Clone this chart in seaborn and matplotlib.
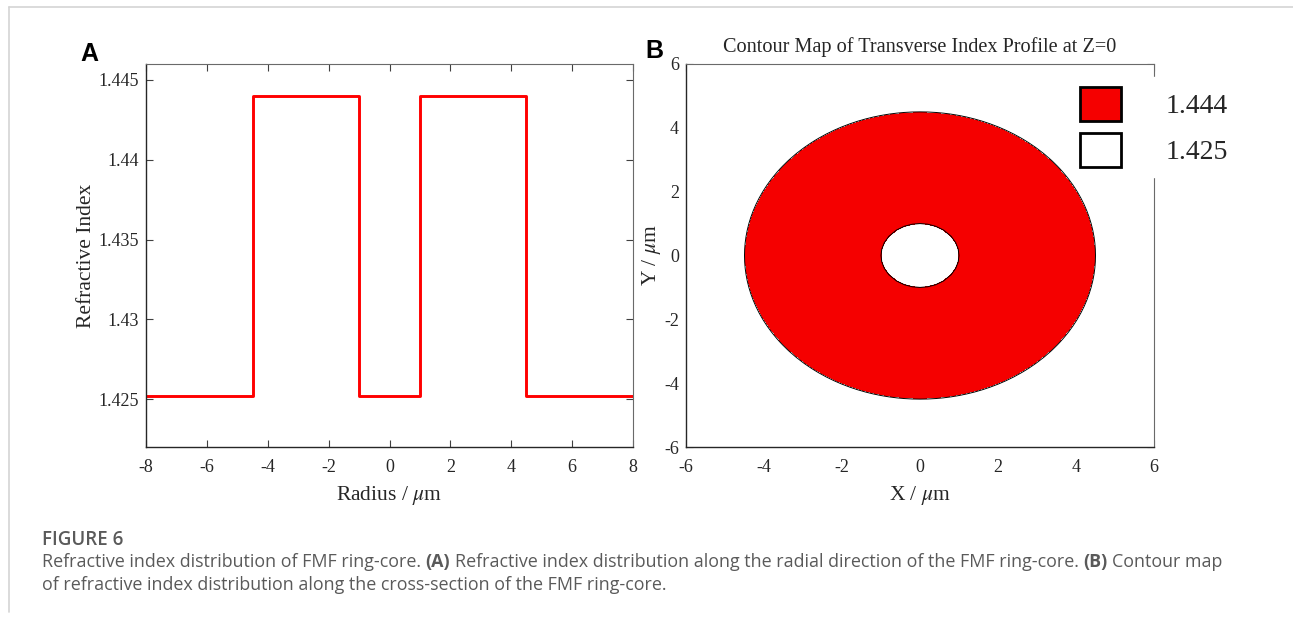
import numpy as np
import pandas as pd
import matplotlib
matplotlib.use("Agg")
import matplotlib.pyplot as plt
import seaborn as sns
from matplotlib.patches import Patch
from matplotlib.lines import Line2D

# ---------------- data ----------------
radius_um = [-8.0, -4.5, -4.5, -1.0, -1.0, 1.0, 1.0, 4.5, 4.5, 8.0]
refr_index = [1.4252, 1.4252, 1.444, 1.444, 1.4252, 1.4252, 1.444, 1.444, 1.4252, 1.4252]
ring_inner_um = 1.0
ring_outer_um = 4.5
core_index = 1.444
clad_index = 1.425
x_ticks_a = [-8, -6, -4, -2, 0, 2, 4, 6, 8]
y_ticks_a = [1.425, 1.43, 1.435, 1.44, 1.445]
y_ticklabels_a = ["1.425", "1.43", "1.435", "1.44", "1.445"]
xy_ticks_b = [-6, -4, -2, 0, 2, 4, 6]
legend_labels = ["1.444", "1.425"]

# ---------------- style ----------------
sns.set_style("ticks")
plt.rcParams["font.family"] = ["Liberation Serif", "DejaVu Serif"]
plt.rcParams["mathtext.fontset"] = "stix"
TXT = "#262626"
RED = "#ff0000"
FILL = "#f50000"

W, H = 1293, 619
fig = plt.figure(figsize=(W / 100, H / 100), dpi=100)


def ax_rect(l, t, r, b):
    return [l / W, 1 - b / H, (r - l) / W, (b - t) / H]


axA = fig.add_axes(ax_rect(146, 64, 633, 447))
axB = fig.add_axes(ax_rect(686, 64, 1154, 447))

for ax in (axA, axB):
    ax.tick_params(direction="in", top=True, right=True, length=5, width=0.8,
                   colors="#404040", labelcolor=TXT, labelsize=13)
    ax.tick_params(axis="x", pad=9)
    ax.tick_params(axis="y", pad=5)
    for s in ("left", "bottom"):
        ax.spines[s].set_color("#262626")
        ax.spines[s].set_linewidth(1.0)
    for s in ("top", "right"):
        ax.spines[s].set_color("#6a6a6a")
        ax.spines[s].set_linewidth(0.8)

# ---------------- panel A ----------------
dfA = pd.DataFrame({"radius": radius_um, "index": refr_index})
sns.lineplot(data=dfA, x="radius", y="index", sort=False, estimator=None,
             color=RED, linewidth=2.1, ax=axA)
axA.set_xlim(-8, 8)
axA.set_ylim(1.422, 1.446)
axA.set_xticks(x_ticks_a)
axA.set_xticklabels([str(v) for v in x_ticks_a])
axA.set_yticks(y_ticks_a)
axA.set_yticklabels(y_ticklabels_a)
axA.set_xlabel(r"Radius / $\mu$m", fontsize=15.5, color=TXT, labelpad=5.5)
axA.set_ylabel("Refractive Index", fontsize=15.5, color=TXT, labelpad=2)

# ---------------- panel B ----------------
g = np.linspace(-6, 6, 61)
X, Y = np.meshgrid(g, g)
R = np.hypot(X, Y)
axB.contourf(X, Y, R, levels=[0, ring_inner_um, ring_outer_um, 100],
             colors=["white", FILL, "white"])
axB.contour(X, Y, R, levels=[ring_inner_um, ring_outer_um],
            colors="black", linewidths=0.7)
axB.set_xlim(-6, 6)
axB.set_ylim(-6, 6)
axB.set_xticks(xy_ticks_b)
axB.set_yticks(xy_ticks_b)
axB.set_xticklabels([str(v) for v in xy_ticks_b])
axB.set_yticklabels([str(v) for v in xy_ticks_b])
axB.set_xlabel(r"X / $\mu$m", fontsize=15.5, color=TXT, labelpad=5.5)
axB.set_ylabel(r"Y / $\mu$m", fontsize=15.5, color=TXT, labelpad=1)
axB.set_title("Contour Map of Transverse Index Profile at Z=0", fontsize=14.6,
              color=TXT, pad=8.5)

handles = [Patch(facecolor=FILL, edgecolor="black", linewidth=2.0),
           Patch(facecolor="white", edgecolor="black", linewidth=2.0)]
leg = axB.legend(handles, legend_labels, loc="upper left",
                 bbox_to_anchor=(1070 / W, 1 - 77 / H), bbox_transform=fig.transFigure,
                 fontsize=20, frameon=True, fancybox=False, framealpha=1,
                 edgecolor="white", facecolor="white", borderpad=0.35,
                 handlelength=1.5, handleheight=1.5, handletextpad=1.6,
                 labelspacing=0.45, borderaxespad=0)
for t in leg.get_texts():
    t.set_color(TXT)
leg.set_zorder(10)

# ---------------- panel letters ----------------
fig.text(80 / W, 1 - 54 / H, "A", fontsize=18, fontweight="bold",
         family=["Liberation Sans"], color="black", va="center", ha="left")
fig.text(645 / W, 1 - 51 / H, "B", fontsize=18, fontweight="bold",
         family=["Liberation Sans"], color="black", va="center", ha="left")

# ---------------- frame lines ----------------
fig.add_artist(Line2D([9 / W, 1], [1 - 7 / H, 1 - 7 / H], transform=fig.transFigure,
                      color="#d4d4d4", linewidth=1.2))
fig.add_artist(Line2D([9 / W, 9 / W], [1 - 7 / H, 1 - 612 / H], transform=fig.transFigure,
                      color="#d4d4d4", linewidth=1.2))

# ---------------- caption ----------------
CAP = "#5a5a5a"
CFONT = ["Open Sans", "DejaVu Sans"]
CSIZE = 12.85
fig.text(42 / W, 1 - 545 / H, "FIGURE 6", fontsize=13.5, fontweight="semibold",
         family=CFONT, color=CAP, va="baseline", ha="left")

fig.canvas.draw()
rend = fig.canvas.get_renderer()


def text_width(s, weight):
    t = fig.text(0, 0, s, fontsize=CSIZE, fontweight=weight, family=CFONT)
    w = t.get_window_extent(renderer=rend).width
    t.remove()
    return w


space_w = text_width("a a", "normal") - text_width("aa", "normal")


def runs(x0, ybase, parts):
    x = x0
    for s, wgt in parts:
        t = fig.text(x / W, 1 - ybase / H, s, fontsize=CSIZE, fontweight=wgt,
                     family=CFONT, color=CAP, va="baseline", ha="left")
        x += t.get_window_extent(renderer=rend).width + space_w


runs(42, 567, [("Refractive index distribution of FMF ring-core.", "normal"),
               ("(A)", "bold"),
               ("Refractive index distribution along the radial direction of the FMF ring-core.", "normal"),
               ("(B)", "bold"),
               ("Contour map", "normal")])
runs(42, 590, [("of refractive index distribution along the cross-section of the FMF ring-core.", "normal")])

fig.savefig("out.png", dpi=100)
